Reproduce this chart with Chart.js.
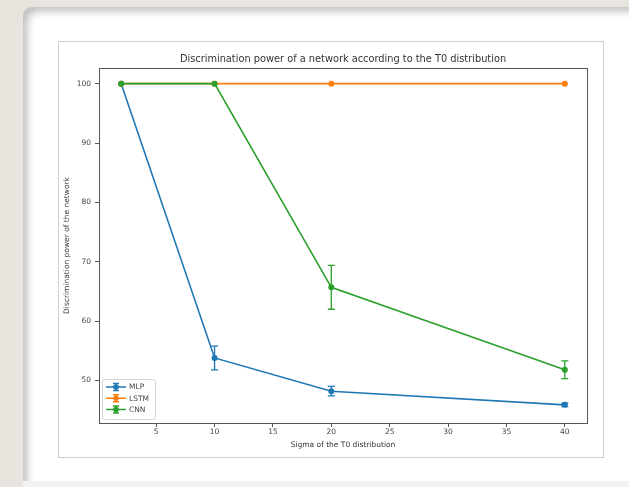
<!DOCTYPE html>
<html>
<head>
<meta charset="utf-8">
<script src="https://cdn.jsdelivr.net/npm/chart.js@4/dist/chart.umd.min.js"></script>
<style>
  html, body { margin:0; padding:0; width:629px; height:487px; overflow:hidden; }
  body { background:#e7e5de; position:relative; font-family:"DejaVu Sans", sans-serif; }
  #card { position:absolute; left:23px; top:7px; width:620px; height:474px; background:#fff;
          border-radius:9px 0 0 0; box-shadow: inset 7px 7px 9px -3px rgba(0,0,0,0.26); }
  #bottom { position:absolute; left:23px; top:481px; width:620px; height:10px; background:#f2f2f1; }
  #frame { position:absolute; left:58px; top:41px; width:544px; height:415px; border:1px solid #cfcfcf; background:#fff; }
  #c { position:absolute; left:0; top:0; }
</style>
</head>
<body>
<div id="card"></div>
<div id="bottom"></div>
<div id="frame"></div>
<canvas id="c" width="629" height="487"></canvas>
<script>
const sigma = [2, 10, 20, 40];
const seriesNames = ['MLP', 'LSTM', 'CNN'];
const mlpValues = [100, 53.8, 48.2, 45.9];
const mlpErrors = [0, 2.0, 0.8, 0.3];
const lstmValues = [100, 100, 100, 100];
const lstmErrors = [0, 0, 0, 0];
const cnnValues = [100, 100, 65.7, 51.8];
const cnnErrors = [0, 0, 3.7, 1.5];
const xTicks = [5, 10, 15, 20, 25, 30, 35, 40];
const yTicks = [50, 60, 70, 80, 90, 100];
const titleText = 'Discrimination power of a network according to the T0 distribution';
const xLabel = 'Sigma of the T0 distribution';
const yLabel = 'Discrimination power of the network';

const colors = ['#1f77b4', '#ff7f0e', '#2ca02c'];
const valueSets = [mlpValues, lstmValues, cnnValues];
const errorSets = [mlpErrors, lstmErrors, cnnErrors];

const datasets = seriesNames.map((name, i) => ({
  label: name,
  data: sigma.map((x, j) => ({x: x, y: valueSets[i][j]})),
  errors: errorSets[i],
  order: seriesNames.length - i,
  borderColor: colors[i],
  backgroundColor: colors[i],
  borderWidth: 1.6,
  pointRadius: 3,
  pointHoverRadius: 3,
  pointBorderWidth: 0,
  showLine: true,
  tension: 0
}));

const errorBarPlugin = {
  id: 'errorBars',
  afterDatasetDraw(chart, args) {
    const ds = chart.data.datasets[args.index];
    const xs = chart.scales.x, ys = chart.scales.y;
    const ctx = chart.ctx;
    ctx.save();
    ctx.strokeStyle = ds.borderColor;
    ctx.lineWidth = 1.3;
    ds.data.forEach((p, j) => {
      const e = ds.errors[j];
      if (!e) return;
      const px = xs.getPixelForValue(p.x);
      const top = ys.getPixelForValue(p.y + e);
      const bot = ys.getPixelForValue(p.y - e);
      ctx.beginPath();
      ctx.moveTo(px, top); ctx.lineTo(px, bot);
      ctx.moveTo(px - 3.5, top); ctx.lineTo(px + 3.5, top);
      ctx.moveTo(px - 3.5, bot); ctx.lineTo(px + 3.5, bot);
      ctx.stroke();
    });
    ctx.restore();
  }
};

const framePlugin = {
  id: 'frameBox',
  afterDraw(chart) {
    const a = chart.chartArea, ctx = chart.ctx;
    ctx.save();
    ctx.strokeStyle = '#555';
    ctx.lineWidth = 1;
    ctx.strokeRect(Math.round(a.left) + 0.5, Math.round(a.top) + 0.5, Math.round(a.right - a.left), Math.round(a.bottom - a.top));
    // title, centred over the axes
    ctx.fillStyle = '#333';
    ctx.font = '9.8px "DejaVu Sans"';
    ctx.textAlign = 'center';
    ctx.textBaseline = 'middle';
    ctx.fillText(titleText, (a.left + a.right) / 2, a.top - 8.5);
    // legend
    const lx = a.left + 3, ly = a.bottom - 44, lw = 53, lh = 40;
    ctx.fillStyle = 'rgba(255,255,255,0.85)';
    ctx.strokeStyle = '#d6d6d6';
    ctx.beginPath();
    ctx.roundRect(lx + 0.5, ly + 0.5, lw, lh, 2);
    ctx.fill(); ctx.stroke();
    ctx.font = '7.5px "DejaVu Sans"';
    ctx.textBaseline = 'middle';
    chart.data.datasets.forEach((ds, i) => {
      const y = ly + 8 + i * 11.3;
      ctx.strokeStyle = ds.borderColor;
      ctx.lineWidth = 1.5;
      ctx.beginPath();
      ctx.moveTo(lx + 4, y); ctx.lineTo(lx + 24, y);
      ctx.moveTo(lx + 14, y - 3.5); ctx.lineTo(lx + 14, y + 3.5);
      ctx.moveTo(lx + 11, y - 3.5); ctx.lineTo(lx + 17, y - 3.5);
      ctx.moveTo(lx + 11, y + 3.5); ctx.lineTo(lx + 17, y + 3.5);
      ctx.stroke();
      ctx.fillStyle = ds.borderColor;
      ctx.beginPath(); ctx.arc(lx + 14, y, 2.8, 0, Math.PI * 2); ctx.fill();
      ctx.fillStyle = '#444';
      ctx.textAlign = 'left';
      ctx.fillText(ds.label, lx + 27, y + 0.5);
    });
    ctx.restore();
  }
};

new Chart(document.getElementById('c'), {
  type: 'scatter',
  data: { datasets: datasets },
  options: {
    responsive: false,
    animation: false,
    layout: { padding: { left: 60, right: 42, top: 68, bottom: 28 } },
    plugins: {
      legend: { display: false },
      tooltip: { enabled: false },
      title: { display: false }
    },
    scales: {
      x: {
        type: 'linear', min: 0.1, max: 41.9,
        afterBuildTicks(s) { s.ticks = xTicks.map(v => ({value: v})); },
        afterFit(s) { s.height = 36; },
        grid: { drawOnChartArea: false, drawTicks: true, tickLength: 4, color: '#555' },
        border: { display: true, color: '#555' },
        ticks: { color: '#444', padding: 1, font: { family: 'DejaVu Sans', size: 7.5 }, maxRotation: 0 },
        title: { display: true, text: xLabel, color: '#333', font: { family: 'DejaVu Sans', size: 7.5, lineHeight: 1.2 }, padding: { top: 0, bottom: 9.5 } }
      },
      y: {
        type: 'linear', min: 42.84, max: 102.64,
        afterBuildTicks(s) { s.ticks = yTicks.map(v => ({value: v})); },
        afterFit(s) { s.width = 39; },
        grid: { drawOnChartArea: false, drawTicks: true, tickLength: 4, color: '#555' },
        border: { display: true, color: '#555' },
        ticks: { color: '#444', padding: 4, font: { family: 'DejaVu Sans', size: 7.5 } },
        title: { display: true, text: yLabel, color: '#333', font: { family: 'DejaVu Sans', size: 7.5, lineHeight: 1.2 }, padding: { top: 2.5, bottom: 0 } }
      }
    }
  },
  plugins: [errorBarPlugin, framePlugin]
});
</script>
</body>
</html>
